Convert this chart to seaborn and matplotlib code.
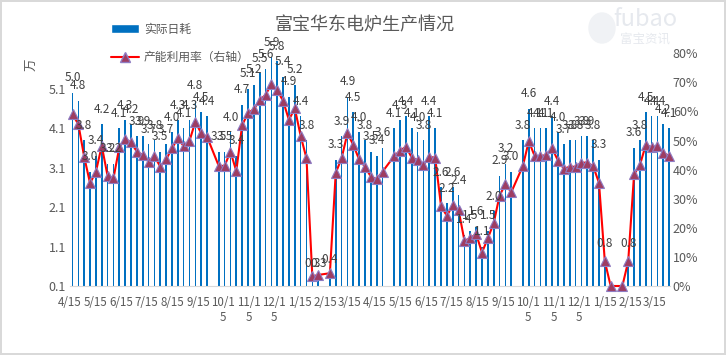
import numpy as np
import pandas as pd
import seaborn as sns
import matplotlib
matplotlib.use("Agg")
import matplotlib.pyplot as plt
import matplotlib.dates as mdates
import matplotlib.patches as mpatches
from matplotlib.lines import Line2D
from matplotlib.ticker import FuncFormatter

# datos semanales (las semanas de fiesta no tienen dato)
semana_inicio = "2017-04-18"
semanas_sin_dato = [24, 43, 54, 76, 93]

rihao = [5.0, 4.8, 3.8, 3.0, 3.4, 4.2, 3.2, 3.2, 4.1, 4.3,
         4.2, 3.9, 3.9, 3.7, 3.8, 3.5, 3.7, 4.0, 4.3, 4.1,
         4.3, 4.8, 4.5, 4.4, 3.5, 3.5, 4.0, 3.4, 4.7, 5.1,
         5.2, 5.5, 5.6, 5.9, 5.8, 5.4, 4.9, 5.2, 4.4, 3.8,
         0.3, 0.3, 0.4, 3.3, 3.9, 4.9, 4.5, 4.0, 3.8, 3.5,
         3.4, 3.6, 4.1, 4.3, 4.4, 4.1, 4.0, 3.8, 4.4, 4.1,
         2.6, 2.2, 2.6, 2.4, 1.4, 1.5, 1.6, 1.1, 1.5, 2.0,
         2.9, 3.2, 3.0, 3.8, 4.6, 4.1, 4.1, 4.1, 4.4, 4.0,
         3.7, 3.8, 3.8, 3.9, 3.9, 3.8, 3.3, 0.8, 0.0, 0.0,
         0.8, 3.6, 3.8, 4.5, 4.4, 4.4, 4.2, 4.1]

liyonglv = [59.0, 55.6, 44.4, 35.3, 39.3, 48.2, 37.8, 37.0, 47.7, 50.5,
            49.4, 46.2, 45.0, 42.7, 44.7, 41.0, 43.5, 47.3, 50.8, 48.1,
            49.9, 56.5, 52.5, 51.3, 41.3, 41.3, 46.2, 39.5, 55.3, 59.4,
            60.8, 63.9, 65.7, 69.4, 67.4, 63.6, 57.1, 61.1, 51.6, 43.9,
            3.3, 3.8, 4.4, 38.9, 43.9, 52.5, 48.5, 43.5, 41.0, 37.6,
            36.7, 39.3, 44.7, 46.5, 47.9, 44.1, 43.3, 41.6, 44.4, 44.1,
            27.5, 24.1, 27.8, 26.1, 15.6, 16.4, 17.9, 11.5, 16.4, 21.6,
            31.0, 35.1, 32.2, 41.3, 49.8, 44.7, 44.7, 45.0, 47.3, 43.1,
            40.3, 41.0, 41.0, 42.4, 42.4, 41.2, 35.5, 8.5, 0.0, 0.0,
            8.5, 38.4, 41.6, 48.5, 47.7, 48.1, 45.8, 44.7]

todas = pd.date_range(semana_inicio, periods=len(rihao) + len(semanas_sin_dato), freq="7D")
fechas = todas.delete(semanas_sin_dato)

df = pd.DataFrame({"fecha": fechas, "rihao": rihao, "liyonglv": np.array(liyonglv) / 100})

gris = "#595959"
azul = "#0070C0"

sns.set_style("white")
plt.rcParams["font.family"] = ["Noto Sans CJK SC", "DejaVu Sans"]

fig, ax = plt.subplots(figsize=(7.26, 3.55), dpi=100)
fig.subplots_adjust(left=70 / 726, right=670 / 726, top=1 - 53.3 / 355, bottom=1 - 286 / 355)

# barras finas
ax.bar(df["fecha"], df["rihao"], width=2.0, color=azul, linewidth=0, antialiased=False, zorder=2)

# linea en el eje derecho
ax2 = ax.twinx()
sns.lineplot(data=df, x="fecha", y="liyonglv", ax=ax2, color="red", lw=1.5,
             marker="^", markersize=7, markerfacecolor="#9E3D62",
             markeredgecolor="#8E7CC3", markeredgewidth=0.8, estimator=None, clip_on=False)
ax2.set_xlabel("")
ax2.set_ylabel("")

# etiquetas de las barras
for f, v in zip(df["fecha"], df["rihao"]):
    if v > 0:
        ax2.annotate(f"{v:.1f}", (mdates.date2num(f), v), xycoords=ax.transData,
                     xytext=(0, 15), textcoords="offset pixels", ha="center", va="center",
                     fontsize=8.5, color="#404040", zorder=5)

# ejes
ax.set_ylim(0.1, 6.0)
ax.set_yticks([0.1, 1.1, 2.1, 3.1, 4.1, 5.1])
ax.set_yticklabels(["0.1", "1.1", "2.1", "3.1", "4.1", "5.1"])
ax2.set_ylim(0, 0.8)
ax2.set_yticks(np.arange(0, 0.81, 0.1))
ax2.yaxis.set_major_formatter(FuncFormatter(lambda y, p: f"{y * 100:.0f}%"))

ax.set_xlim(pd.Timestamp("2017-04-15"), fechas[-1] + pd.Timedelta(days=1))
ax.xaxis.set_major_locator(mdates.MonthLocator(bymonthday=15))


def etiqueta_fecha(x, pos):
    d = mdates.num2date(x)
    s = f"{d.month}/{d.day}"
    if len(s) > 4:
        s = s[:4] + "\n" + s[4:]
    return s


ax.xaxis.set_major_formatter(FuncFormatter(etiqueta_fecha))

for a in (ax, ax2):
    for lado in ["top", "left", "right"]:
        a.spines[lado].set_visible(False)
ax2.spines["bottom"].set_visible(False)
ax.spines["bottom"].set_color("#d9d9d9")
ax.tick_params(axis="x", length=5, color="#d9d9d9", labelsize=8.3, labelcolor=gris, pad=2)
ax.tick_params(axis="y", length=0, labelsize=9, labelcolor=gris, pad=3)
ax2.tick_params(axis="y", length=0, labelsize=9, labelcolor=gris, pad=2)

# textos
fig.text(365 / 726, 1 - 25 / 355, "富宝华东电炉生产情况", ha="center", va="center",
         fontsize=13, color=gris)
fig.text(32 / 726, 1 - 65 / 355, "万", rotation=90, ha="center", va="center",
         fontsize=9, color=gris)

# marca de agua
fig.text(645 / 726, 1 - 19 / 355, "fubao", ha="center", va="center", fontsize=17, color="#e6e9ee")
fig.text(645 / 726, 1 - 40 / 355, "富宝资讯", ha="center", va="center", fontsize=9, color="#e6e9ee")
fig.patches.append(mpatches.Ellipse((602 / 726, 1 - 28 / 355), 26 / 726, 30 / 355,
                                    transform=fig.transFigure, color="#f0f2f5", zorder=0))

# leyenda
handles = [mpatches.Patch(facecolor=azul),
           Line2D([], [], color="red", lw=1.5, marker="^", markersize=7,
                  markerfacecolor="#9E3D62", markeredgecolor="#8E7CC3")]
fig.legend(handles, ["实际日耗", "产能利用率（右轴）"], loc="upper left",
           bbox_to_anchor=(100 / 726, 1 - 12 / 355), frameon=False, fontsize=8.5,
           labelspacing=1.3, handlelength=2.4, handletextpad=0.4, labelcolor=gris)

fig.patch.set_edgecolor("#d9d9d9")
fig.patch.set_linewidth(1.5)

plt.savefig("out.png", dpi=100)
